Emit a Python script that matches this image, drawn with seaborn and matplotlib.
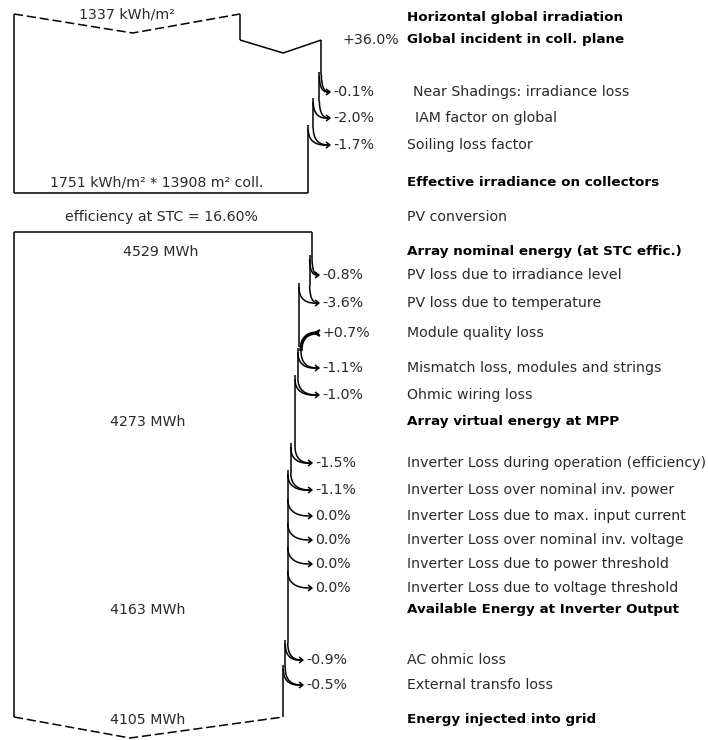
import matplotlib.pyplot as plt
import seaborn as sns
from matplotlib.path import Path
from matplotlib.patches import PathPatch

# Irradiation part (kWh/m2)
horizontal_irr = 1337
transposition_gain = 36.0
irr_loss_labels = ['Near Shadings: irradiance loss', 'IAM factor on global', 'Soiling loss factor']
irr_loss_pcts = [-0.1, -2.0, -1.7]
effective_irr = 1751
collector_area = 13908
stc_efficiency = 16.60

# Energy part (MWh)
nominal_energy = 4529
array_loss_labels = ['PV loss due to irradiance level', 'PV loss due to temperature',
                     'Module quality loss', 'Mismatch loss, modules and strings',
                     'Ohmic wiring loss']
array_loss_pcts = [-0.8, -3.6, 0.7, -1.1, -1.0]
mpp_energy = 4273
inverter_loss_labels = ['Inverter Loss during operation (efficiency)',
                        'Inverter Loss over nominal inv. power',
                        'Inverter Loss due to max. input current',
                        'Inverter Loss over nominal inv. voltage',
                        'Inverter Loss due to power threshold',
                        'Inverter Loss due to voltage threshold']
inverter_loss_pcts = [-1.5, -1.1, 0.0, 0.0, 0.0, 0.0]
inverter_energy = 4163
ac_loss_labels = ['AC ohmic loss', 'External transfo loss']
ac_loss_pcts = [-0.9, -0.5]
grid_energy = 4105

# layout (pixels)
X0 = 14
W_HOR = 226
W_NOM = 298
LABEL_X = 407
irr_rows = [92, 118, 145]
irr_label_x = [413, 415, 407]
array_rows = [275, 303, 333, 368, 395]
inverter_rows = [463, 490, 516, 540, 564, 588]
ac_rows = [660, 685]
LW = 1.1
BOLD = dict(fontsize=9.7, fontweight='bold', color='black', va='center')
REG = dict(fontsize=10.2, color='#2a2a2a', va='center')

sns.set_theme(style='white')
plt.rcParams['font.family'] = ['DejaVu Sans']

fig = plt.figure(figsize=(7.08, 7.40), dpi=100)
ax = fig.add_axes([0, 0, 1, 1])
ax.set_xlim(0, 708)
ax.set_ylim(740, 0)
ax.axis('off')


def line(xs, ys, **kw):
    ax.plot(xs, ys, color='black', lw=kw.pop('lw', LW), solid_capstyle='butt', **kw)


def curve(p0, p1, p2, lw=LW):
    path = Path([p0, p1, p2], [Path.MOVETO, Path.CURVE3, Path.CURVE3])
    ax.add_patch(PathPatch(path, fill=False, lw=lw, ec='black'))


def pct_text(p):
    return '0.0%' if p == 0 else f'{p:+.1f}%'


def flow_edge(x, y_top, rows, pcts, labels, pct_x, y_bottom, label_x=None):
    seg_top = y_top
    tip = pct_x - 3
    for i, (y, p, lab) in enumerate(zip(rows, pcts, labels)):
        w = abs(p) / 100 * (x - X0)
        if p != 0:
            w = max(w, 2.0)
        ys = y - 17
        if p <= 0:
            line([x, x], [seg_top, ys])
            curve((x, ys), (x, y + 1), (tip, y))
            if p < 0:
                curve((x - w, ys + 1), (x - w, y + 2), (tip, y))
                x = x - w
                seg_top = ys - 3
            else:
                seg_top = ys
            line([tip - 4, tip, tip - 4], [y - 3, y, y + 3])
        else:
            line([x, x], [seg_top, y + 14])
            x = x + w
            curve((tip, y), (x, y - 1), (x, y + 18), lw=2.4)
            line([tip + 1, tip - 4, tip + 1], [y - 3, y, y + 3], lw=1.6)
            seg_top = y + 14
        ax.text(pct_x, y, pct_text(p), ha='left', **REG)
        lx = LABEL_X if label_x is None else label_x[i]
        ax.text(lx, y, lab, ha='left', **REG)
    line([x, x], [seg_top, y_bottom])
    return x


# ---- irradiation block ----
s1 = W_HOR / horizontal_irr
x_hor = X0 + s1 * horizontal_irr
x_inc = X0 + s1 * horizontal_irr * (1 + transposition_gain / 100)
tip1 = X0 + 0.525 * (x_hor - X0)
ax.plot([X0, tip1, x_hor], [14, 33, 14], color='black', lw=LW, ls=(0, (6, 2.5)))
line([x_hor, x_hor], [14, 40])
line([x_hor, x_hor + 0.53 * (x_inc - x_hor), x_inc], [40, 53, 40])
line([X0, X0], [14, 193])
x_eff = flow_edge(x_inc, 40, irr_rows, irr_loss_pcts, irr_loss_labels, 333, 193, irr_label_x)
line([X0, x_eff], [193, 193])

ax.text(127, 14, f'{horizontal_irr} kWh/m²', ha='center', **REG)
ax.text(LABEL_X, 18, 'Horizontal global irradiation', ha='left', **BOLD)
ax.text(343, 40, f'{transposition_gain:+.1f}%', ha='left', **REG)
ax.text(LABEL_X, 40, 'Global incident in coll. plane', ha='left', **BOLD)
ax.text(157, 182, f'{effective_irr} kWh/m² * {collector_area} m² coll.', ha='center', **REG)
ax.text(LABEL_X, 183, 'Effective irradiance on collectors', ha='left', **BOLD)

ax.text(161, 217, f'efficiency at STC = {stc_efficiency:.2f}%', ha='center', **REG)
ax.text(LABEL_X, 217, 'PV conversion', ha='left', **REG)

# ---- energy block ----
s2 = W_NOM / nominal_energy
x_nom = X0 + s2 * nominal_energy
line([X0, x_nom], [232, 232])
line([X0, X0], [232, 717])
x = flow_edge(x_nom, 232, array_rows, array_loss_pcts, array_loss_labels, 322, array_rows[-1])
x = flow_edge(x, array_rows[-1], inverter_rows, inverter_loss_pcts, inverter_loss_labels, 315, inverter_rows[-1])
x_grid = flow_edge(x, inverter_rows[-1], ac_rows, ac_loss_pcts, ac_loss_labels, 306, 717)
ax.plot([X0, 130, x_grid], [717, 738, 717], color='black', lw=LW, ls=(0, (6, 2.5)))

ax.text(161, 252, f'{nominal_energy} MWh', ha='center', **REG)
ax.text(LABEL_X, 252, 'Array nominal energy (at STC effic.)', ha='left', **BOLD)
ax.text(148, 422, f'{mpp_energy} MWh', ha='center', **REG)
ax.text(LABEL_X, 422, 'Array virtual energy at MPP', ha='left', **BOLD)
ax.text(148, 610, f'{inverter_energy} MWh', ha='center', **REG)
ax.text(LABEL_X, 610, 'Available Energy at Inverter Output', ha='left', **BOLD)
ax.text(148, 720, f'{grid_energy} MWh', ha='center', **REG)
ax.text(LABEL_X, 720, 'Energy injected into grid', ha='left', **BOLD)

fig.savefig('out.png', dpi=100, facecolor='white')
